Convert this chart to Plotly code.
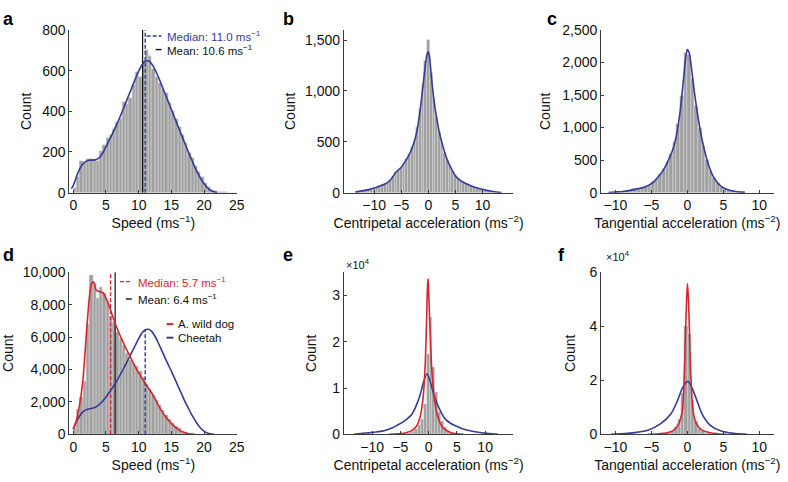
import numpy as np
import plotly.graph_objects as go

# ---------------- data ----------------
# Panel a: cheetah speed histogram (bins 0.5 m/s starting at 0)
a_bin_width = 0.5
a_counts = [22, 77, 157, 149, 165, 168, 160, 154, 204, 236, 268, 284, 315, 347, 363,
            447, 434, 466, 529, 592, 569, 648, 700, 672, 608, 569, 537, 508, 490, 442,
            402, 363, 323, 284, 244, 196, 173, 133, 101, 77, 46, 30, 14, 6, 3, 2, 2, 1, 1, 1]
a_kde_x = [-0.3, 0.0, 0.5, 1.0, 1.5, 2.0, 2.5, 3.0, 3.5, 4.0, 4.5, 5.0, 5.5, 6.0, 6.5, 7.0,
           7.5, 8.0, 8.5, 9.0, 9.5, 10.0, 10.5, 11.0, 11.5, 12.0, 12.5, 13.0, 13.5, 14.0,
           14.5, 15.0, 15.5, 16.0, 16.5, 17.0, 17.5, 18.0, 18.5, 19.0, 19.5, 20.0, 20.5,
           21.0, 21.5, 22.0]
a_kde_y = [20, 35, 80, 118, 142, 155, 160, 160, 163, 172, 195, 225, 258, 290, 325, 361,
           400, 440, 480, 520, 560, 598, 628, 646, 648, 632, 605, 570, 530, 490, 450, 410,
           368, 328, 288, 248, 208, 170, 132, 98, 68, 44, 25, 12, 4, 0]
a_median = 11.0
a_mean = 10.6

# Panel b: cheetah centripetal acceleration (bins 0.5 centred on -13 ... 13)
b_bin_width = 0.5
b_counts = [8, 12, 18, 22, 28, 35, 42, 52, 62, 75, 82, 100, 128, 165, 200, 215, 245, 285,
            335, 380, 445, 520, 650, 820, 1060, 1300, 1500, 1180, 930, 740, 600, 495, 395,
            325, 262, 212, 170, 140, 118, 100, 88, 75, 62, 52, 45, 38, 32, 26, 20, 15, 11, 7, 4]
b_kde_x = [-13.5, -13, -12, -11, -10, -9, -8, -7, -6, -5, -4.5, -4, -3.5, -3, -2.5, -2, -1.5,
           -1, -0.5, -0.25, 0, 0.25, 0.5, 1, 1.5, 2, 2.5, 3, 3.5, 4, 4.5, 5, 6, 7, 8, 9, 10,
           11, 12, 13, 13.5]
b_kde_y = [5, 10, 20, 30, 45, 65, 85, 125, 200, 250, 290, 330, 380, 440, 520, 640, 820, 1050,
           1280, 1360, 1385, 1320, 1170, 920, 740, 600, 490, 400, 320, 260, 210, 165, 115, 88,
           62, 45, 32, 20, 12, 4, 2]

# Panel c: cheetah tangential acceleration (bins 0.5 centred on -9.75 ... 7.75)
c_bin_width = 0.5
c_counts = [10, 15, 22, 30, 40, 52, 64, 78, 98, 125, 160, 215, 285, 365, 470, 600, 780, 1060,
            1480, 2150, 2120, 1750, 1330, 1000, 720, 500, 340, 225, 150, 95, 62, 40, 26, 17, 10, 5]
c_kde_x = [-11, -10, -9, -8, -7, -6, -5, -4.5, -4, -3.5, -3, -2.5, -2, -1.5, -1, -0.5, -0.25,
           0, 0.25, 0.5, 1, 1.5, 2, 2.5, 3, 3.5, 4, 4.5, 5, 6, 7, 8]
c_kde_y = [3, 10, 18, 35, 58, 85, 140, 185, 250, 320, 415, 530, 670, 890, 1250, 1780, 2050,
           2200, 2150, 1980, 1530, 1150, 840, 600, 410, 270, 180, 118, 75, 32, 14, 4]

# Panel d: African wild dog speed histogram + KDEs
d_bin_width = 0.5
d_counts = [400, 1550, 2300, 3300, 6800, 9800, 9300, 8400, 9050, 8700, 8200, 7300, 6900, 6300,
            5900, 5500, 5000, 4600, 4400, 4200, 3900, 3500, 3100, 2800, 2400, 2100, 1800, 1500,
            1200, 950, 700, 500, 350, 220, 130, 80, 40, 20, 10]
d_dog_x = [0, 0.5, 1.0, 1.5, 2.0, 2.5, 2.8, 3.1, 3.5, 4.0, 4.5, 5.0, 5.5, 6.0, 6.5, 7.0, 7.5,
           8, 8.5, 9, 9.5, 10, 10.5, 11, 11.5, 12, 12.5, 13, 13.5, 14, 14.5, 15, 15.5, 16,
           16.5, 17, 17.5, 18, 18.5]
d_dog_y = [300, 900, 1900, 3500, 6200, 8600, 9300, 9400, 8900, 8800, 8750, 8400, 7900, 7300,
           6750, 6250, 5800, 5350, 4950, 4550, 4150, 3800, 3450, 3150, 2850, 2550, 2200, 1800,
           1450, 1150, 900, 680, 480, 320, 200, 110, 55, 20, 0]
d_cheetah_x = [0, 0.5, 1, 1.5, 2, 2.5, 3, 3.5, 4, 4.5, 5, 5.5, 6, 6.5, 7, 7.5, 8, 8.5, 9, 9.5,
               10, 10.5, 11, 11.5, 12, 12.5, 13, 13.5, 14, 14.5, 15, 15.5, 16, 16.5, 17, 17.5,
               18, 18.5, 19, 19.5, 20, 20.5, 21, 21.5]
d_cheetah_y = [350, 800, 1150, 1400, 1520, 1580, 1620, 1700, 1850, 2050, 2300, 2580, 2880,
               3200, 3550, 3920, 4300, 4700, 5100, 5500, 5900, 6250, 6450, 6480, 6350, 6050,
               5650, 5200, 4750, 4320, 3900, 3450, 3000, 2550, 2100, 1700, 1300, 950, 620, 380,
               200, 90, 30, 0]
d_median = 5.7
d_mean = 6.4
d_cheetah_median = 11.0
d_cheetah_median_height = 6450

# Panel e: centripetal acceleration, wild dog histogram + KDEs
e_bin_width = 0.5
e_bin_start = -4.1
e_counts = [100, 200, 400, 700, 1200, 2000, 3300, 6500, 17300, 25300, 14500, 9200, 4800, 2800,
            1600, 900, 500, 250, 120, 50]
e_dog_x = [-7, -5, -4, -3, -2.5, -2, -1.5, -1.2, -0.9, -0.6, -0.4, -0.2, -0.1, 0, 0.15, 0.3,
           0.5, 0.75, 1, 1.5, 2, 2.5, 3, 4, 5, 6.2]
e_dog_y = [0, 150, 350, 800, 1300, 2100, 3800, 5800, 9000, 15500, 23000, 32000, 33600, 31000,
           25500, 21000, 15000, 11000, 7800, 4400, 2500, 1500, 950, 350, 120, 0]
e_cheetah_x = [-13.2, -12, -10.3, -9, -7.9, -6.5, -5.6, -4.5, -3.8, -3, -2.35, -1.5, -0.9, -0.3,
               0.3, 0.9, 1.8, 2.9, 4, 5, 6, 7.35, 8.5, 10.3, 11.5, 12.3]
e_cheetah_y = [0, 200, 370, 560, 770, 1350, 1950, 2700, 3340, 4300, 5780, 8560, 11340, 13090,
               11340, 8560, 5780, 3340, 2300, 1740, 1200, 770, 500, 210, 80, 0]

# Panel f: tangential acceleration, wild dog histogram + KDEs
f_bin_width = 0.47
f_bin_start = -3.46
f_counts = [150, 300, 600, 1200, 2500, 5500, 15400, 40200, 37100, 12500, 5000, 2400, 1200, 600,
            300, 150]
f_dog_x = [-5.5, -4, -2.8, -1.85, -1.2, -0.7, -0.4, -0.25, -0.1, 0.02, 0.15, 0.3, 0.45, 0.8,
           1.25, 2.05, 3.2, 4.2, 5.5]
f_dog_y = [0, 250, 600, 1550, 3940, 8700, 24200, 38000, 50000, 55800, 50000, 38000, 24200,
           8700, 3940, 1550, 600, 250, 0]
f_cheetah_x = [-10.6, -8.3, -5.5, -3.7, -2.3, -1.4, -0.7, 0.05, 0.67, 1.36, 2.05, 3.2, 4.6, 6.4,
               8.3]
f_cheetah_y = [0, 360, 1550, 3940, 7500, 12300, 17050, 19600, 17050, 12300, 7500, 3340, 1310,
               360, 0]

# ---------------- styling ----------------
FONT = "Liberation Sans, Arial, Helvetica, sans-serif"
BLUE = "#363b96"
RED = "#d7262b"
BAR = "#a0a0a0"
BAR_EDGE = "#dcdcdc"
AX = "#3a3a3a"
W, H = 788, 482


def px_x(p):
    return p / W


def px_y(p):
    return 1 - p / H


fig = go.Figure()


def hist(xa, ya, centers, counts, width):
    fig.add_trace(go.Bar(x=centers, y=counts, width=width, marker_color=BAR,
                         marker_line_color=BAR_EDGE, marker_line_width=0.5,
                         xaxis=xa, yaxis=ya, showlegend=False))


def curve(xa, ya, x, y, color, width=1.6, dash="solid"):
    fig.add_trace(go.Scatter(x=x, y=y, mode="lines", line=dict(color=color, width=width,
                                                                dash=dash, shape="spline",
                                                                smoothing=0.8),
                             xaxis=xa, yaxis=ya, showlegend=False, hoverinfo="skip"))


def vline(xa, ya, x, top, color, dash="solid", width=1.2):
    fig.add_trace(go.Scatter(x=[x, x], y=[0, top], mode="lines",
                             line=dict(color=color, width=width, dash=dash),
                             xaxis=xa, yaxis=ya, showlegend=False, hoverinfo="skip"))


# panel a
a_centers = a_bin_width / 2 + a_bin_width * np.arange(len(a_counts))
hist("x", "y", a_centers, a_counts, a_bin_width)
vline("x", "y", a_mean, 800, "#111111", width=1.2)
vline("x", "y", a_median, 800, BLUE, dash="4px,2px", width=1.4)
curve("x", "y", a_kde_x, a_kde_y, BLUE)

# panel b
b_centers = -13 + b_bin_width * np.arange(len(b_counts))
hist("x2", "y2", b_centers, b_counts, b_bin_width)
curve("x2", "y2", b_kde_x, b_kde_y, BLUE)

# panel c
c_centers = -9.75 + c_bin_width * np.arange(len(c_counts))
hist("x3", "y3", c_centers, c_counts, c_bin_width)
curve("x3", "y3", c_kde_x, c_kde_y, BLUE)

# panel d
d_centers = d_bin_width / 2 + d_bin_width * np.arange(len(d_counts))
hist("x4", "y4", d_centers, d_counts, d_bin_width)
vline("x4", "y4", d_mean, 10000, "#111111", width=1.2)
vline("x4", "y4", d_median, 10000, RED, dash="4px,2px", width=1.4)
vline("x4", "y4", d_cheetah_median, d_cheetah_median_height, BLUE, dash="4px,2px", width=1.4)
curve("x4", "y4", d_cheetah_x, d_cheetah_y, BLUE)
curve("x4", "y4", d_dog_x, d_dog_y, RED)

# panel e
e_centers = e_bin_start + e_bin_width * np.arange(len(e_counts))
hist("x5", "y5", e_centers, e_counts, e_bin_width)
curve("x5", "y5", e_cheetah_x, e_cheetah_y, BLUE)
curve("x5", "y5", e_dog_x, e_dog_y, RED)

# panel f
f_centers = f_bin_start + f_bin_width * np.arange(len(f_counts))
hist("x6", "y6", f_centers, f_counts, f_bin_width)
curve("x6", "y6", f_cheetah_x, f_cheetah_y, BLUE)
curve("x6", "y6", f_dog_x, f_dog_y, RED)

# ---------------- axes ----------------
col_dom = {
    1: [px_x(70), px_x(239.5)],
    2: [px_x(347), px_x(518)],
    3: [px_x(606.5), px_x(780.5)],
}
row_dom = {1: [px_y(191), px_y(22.7)], 2: [px_y(441), px_y(273.3)]}

tickfont = dict(family=FONT, size=14, color="#111111")
titlefont = dict(family=FONT, size=14, color="#111111")


def xax(col, row, rng, tickvals, title, anchor):
    return dict(domain=col_dom[col], range=rng, anchor=anchor, showline=True, linecolor=AX,
                linewidth=1, ticks="inside", ticklen=3, tickcolor=AX, tickvals=tickvals,
                tickfont=tickfont, showgrid=False, zeroline=False,
                title=dict(text=title, font=titlefont, standoff=1))


def yax(row, rng, tickvals, anchor, standoff, ticktext=None):
    d = dict(domain=row_dom[row], range=rng, anchor=anchor, showline=True, linecolor=AX,
             linewidth=1, ticks="inside", ticklen=3, tickcolor=AX, tickvals=tickvals,
             tickfont=tickfont, showgrid=False, zeroline=False, tickformat=",d",
             title=dict(text="Count", font=titlefont, standoff=standoff))
    if ticktext is not None:
        d["ticktext"] = ticktext
    return d


speed_title = "Speed (ms<sup>−1</sup>)"
cent_title = "Centripetal acceleration (ms<sup>−2</sup>)"
tang_title = "Tangential acceleration (ms<sup>−2</sup>)"

fig.update_layout(
    xaxis=xax(1, 1, [-0.6, 25.1], [0, 5, 10, 15, 20, 25], speed_title, "y"),
    yaxis=yax(1, [0, 800], [0, 200, 400, 600, 800], "x", 7),
    xaxis2=xax(2, 1, [-15.6, 15.7], [-10, -5, 0, 5, 10], cent_title, "y2"),
    yaxis2=yax(1, [0, 1600], [0, 500, 1000, 1500], "x2", 6),
    xaxis3=xax(3, 1, [-12, 12], [-10, -5, 0, 5, 10], tang_title, "y3"),
    yaxis3=yax(1, [0, 2500], [0, 500, 1000, 1500, 2000, 2500], "x3", 8),
    xaxis4=xax(1, 2, [-0.6, 25.1], [0, 5, 10, 15, 20, 25], speed_title, "y4"),
    yaxis4=yax(2, [0, 10000], [0, 2000, 4000, 6000, 8000, 10000], "x4", 5),
    xaxis5=xax(2, 2, [-15, 15], [-10, -5, 0, 5, 10], cent_title, "y5"),
    yaxis5=yax(2, [0, 35000], [0, 10000, 20000, 30000], "x5", 12, ["0", "1", "2", "3"]),
    xaxis6=xax(3, 2, [-12, 12], [-10, -5, 0, 5, 10], tang_title, "y6"),
    yaxis6=yax(2, [0, 60000], [0, 20000, 40000, 60000], "x6", 10, ["0", "2", "4", "6"]),
)

# ---------------- annotations / legend samples ----------------
ann = []
shapes = []


def letter(t, x, y):
    ann.append(dict(text=f"<b>{t}</b>", x=px_x(x), y=px_y(y), xref="paper", yref="paper",
                    xanchor="left", yanchor="middle", showarrow=False,
                    font=dict(family=FONT, size=18, color="#000000")))


letter("a", 1, 11)
letter("b", 284, 11)
letter("c", 550, 11)
letter("d", 1, 255)
letter("e", 284, 255)
letter("f", 561, 255)


def label(t, x, y, color, size=11.5):
    ann.append(dict(text=t, x=px_x(x), y=px_y(y), xref="paper", yref="paper",
                    xanchor="left", yanchor="middle", showarrow=False,
                    font=dict(family=FONT, size=size, color=color)))


def sample(x0, x1, y, color, dash="solid", width=1.4):
    shapes.append(dict(type="line", xref="paper", yref="paper", x0=px_x(x0), x1=px_x(x1),
                       y0=px_y(y), y1=px_y(y), line=dict(color=color, width=width, dash=dash)))


# panel a legend
sample(148, 163, 29, BLUE, dash="4px,2px")
label(f"Median: {a_median:.1f} ms<sup>−1</sup>", 166, 29, BLUE)
sample(157, 163, 43, "#111111")
label(f"Mean: {a_mean:.1f} ms<sup>−1</sup>", 166, 43, "#111111")

# panel d legend
sample(121, 133, 283, RED, dash="4px,2px")
label(f"Median: {d_median:.1f} ms<sup>−1</sup>", 137, 283, RED)
sample(127, 133, 301, "#111111")
label(f"Mean: {d_mean:.1f} ms<sup>−1</sup>", 137, 301, "#111111")
sample(168, 175, 327, RED, width=2)
label("A. wild dog", 178, 327, "#111111")
sample(168, 175, 341, BLUE, width=2)
label("Cheetah", 178, 341, "#111111")

# x10^4 multipliers
label("×10<sup>4</sup>", 347, 265, "#111111", size=11)
label("×10<sup>4</sup>", 609, 257, "#111111", size=11)

fig.update_layout(annotations=ann, shapes=shapes, width=W, height=H,
                  margin=dict(l=0, r=0, t=0, b=0), plot_bgcolor="white",
                  paper_bgcolor="white", bargap=0, showlegend=False,
                  font=dict(family=FONT))

fig.write_html("out.html", config={"displayModeBar": False},
               post_script="document.body.style.margin='0px';document.body.style.overflow='hidden';")
